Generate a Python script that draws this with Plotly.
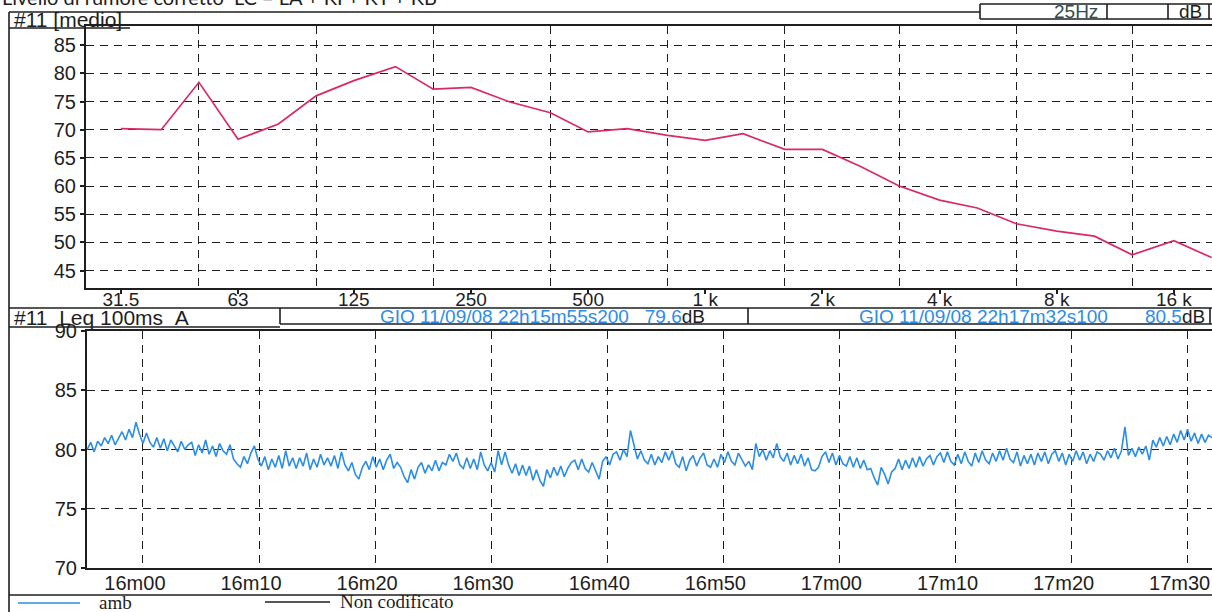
import math
import plotly.graph_objects as go

# ---------------- data ----------------
bands_hz = [31.5, 40, 50, 63, 80, 100, 125, 160, 200, 250, 315, 400, 500, 630, 800,
            1000, 1250, 1600, 2000, 2500, 3150, 4000, 5000, 6300, 8000, 10000, 12500,
            16000, 20000]
spectrum_db = [70.2, 70.0, 78.4, 68.3, 71.0, 76.0, 78.7, 81.2, 77.2, 77.5, 74.9, 73.0,
               69.6, 70.2, 69.0, 68.1, 69.3, 66.5, 66.5, 63.5, 60.0, 57.5, 56.1, 53.3,
               52.0, 51.1, 47.8, 50.3, 47.3]
freq_tick_vals = [31.5, 63, 125, 250, 500, 1000, 2000, 4000, 8000, 16000]
freq_tick_text = ["31.5", "63", "125", "250", "500", "1 k", "2 k", "4 k", "8 k", "16 k"]
freq_grid_vals = [50, 100, 200, 400, 800, 1600, 3150, 6300, 12500]
spec_db_ticks = [45, 50, 55, 60, 65, 70, 75, 80, 85]

leq_start_s = 55.2   # seconds after 22h15m00 (22h15m55s200)
leq_step_s = 0.3
leq_db = [
    80.0, 80.6, 79.8, 80.7, 80.3, 81.0, 80.5, 81.2, 80.4, 80.9,
    81.5, 80.8, 81.7, 81.0, 82.3, 81.3, 80.5, 81.4, 80.6, 80.2,
    81.0, 80.1, 80.9, 79.9, 80.8, 80.3, 79.8, 80.7, 80.0, 80.4,
    80.6, 79.5, 80.4, 79.7, 80.8, 79.6, 80.3, 79.4, 80.5, 79.9,
    79.6, 80.4, 79.2, 78.8, 78.5, 79.4, 78.8, 79.7, 80.3, 79.2,
    78.6, 79.4, 78.3, 79.2, 78.5, 79.5, 78.4, 79.9, 78.6, 79.3,
    78.4, 79.3, 78.6, 79.7, 78.3, 79.2, 78.5, 79.6, 78.7, 79.3,
    78.6, 79.5, 78.4, 79.8, 78.7, 78.2, 78.9, 77.9, 77.5, 78.5,
    79.0, 78.3, 79.4, 78.5, 79.2, 78.3, 79.1, 79.6, 78.4, 78.9,
    78.5, 77.7, 77.2, 78.3, 77.5, 78.5, 78.9, 78.0, 78.7, 78.2,
    79.1, 78.2, 78.9, 78.7, 79.6, 79.0, 79.7, 78.7, 78.4, 79.3,
    78.4, 79.2, 78.3, 79.8, 78.7, 78.2, 78.9, 78.1, 79.9, 78.7,
    79.8, 78.7, 78.0, 78.8, 77.8, 78.7, 77.8, 78.6, 77.4, 78.3,
    77.4, 76.9, 78.3, 77.6, 78.5, 77.8, 78.6, 77.7, 78.4, 78.9,
    79.1, 78.3, 79.2, 78.4, 78.1, 78.9, 78.2, 77.5, 79.0, 79.4,
    78.7, 79.6, 79.8, 79.1, 80.0, 79.4, 81.6, 80.3, 79.2, 79.9,
    79.1, 78.8, 79.6, 78.7, 79.4, 78.9, 79.8, 79.1, 79.9, 78.8,
    78.5, 79.4, 78.2, 79.1, 79.5, 78.6, 79.3, 79.7, 78.7, 78.5,
    79.2, 78.5, 79.6, 78.9, 79.8, 79.0, 78.7, 79.7, 79.1, 78.6,
    79.0, 78.3, 80.5, 79.4, 80.0, 79.1, 79.9, 79.3, 80.5, 79.4,
    79.0, 79.7, 78.7, 79.5, 78.8, 79.6, 78.6, 79.3, 78.3, 78.2,
    78.5, 79.4, 79.8, 78.9, 79.7, 78.7, 79.5, 78.8, 78.6, 79.4,
    78.5, 79.3, 78.4, 79.1, 78.3, 78.4, 77.6, 77.0, 78.5, 77.9,
    77.1, 78.1, 78.4, 79.2, 78.3, 79.1, 78.4, 79.3, 78.5, 79.4,
    78.6, 79.2, 79.5, 78.7, 79.4, 79.7, 78.9, 79.8, 79.0, 78.7,
    79.6, 78.8, 79.8, 79.0, 78.6, 79.7, 78.9, 79.9, 79.1, 78.8,
    79.7, 79.0, 79.9, 79.1, 80.1, 79.2, 78.9, 79.8, 78.6, 79.5,
    78.8, 79.6, 78.7, 79.7, 79.0, 79.8, 78.8, 79.6, 79.9, 79.0,
    79.7, 78.7, 79.6, 79.0, 79.9, 79.1, 79.8, 78.8, 79.6, 79.0,
    79.8, 79.6, 79.1, 79.9, 79.3, 80.1, 79.2, 79.9, 81.9, 79.5,
    80.1, 79.4, 80.2, 79.6, 80.3, 79.1, 80.8, 80.2, 81.0, 80.3,
    81.1, 80.4, 81.3, 80.6, 81.6, 80.8, 81.7, 80.7, 81.4, 80.5,
    81.3, 80.6, 81.2, 81.0,
]
leq_time_s = [leq_start_s + i * leq_step_s for i in range(len(leq_db))]
time_tick_vals = [60, 70, 80, 90, 100, 110, 120, 130, 140, 150]
time_tick_text = ["16m00", "16m10", "16m20", "16m30", "16m40", "16m50",
                  "17m00", "17m10", "17m20", "17m30"]
leq_db_ticks = [70, 75, 80, 85, 90]

# ---------------- styling helpers ----------------
W, H = 1212, 612
def px(x):
    return x / W
def py(y):
    return 1 - y / H

INK = "#1e1e1e"
SANS = "Liberation Sans, Arial, sans-serif"
SERIF = "Liberation Serif, Times New Roman, serif"
GRID_DASH = "8px,6px"
BLUE = "#2B8DE6"
PINK = "#D92A62"

fig = go.Figure()
fig.add_trace(go.Scatter(x=bands_hz, y=spectrum_db, mode="lines",
                         line=dict(color=PINK, width=1.7),
                         xaxis="x", yaxis="y", showlegend=False, hoverinfo="skip"))
fig.add_trace(go.Scatter(x=leq_time_s, y=leq_db, mode="lines",
                         line=dict(color=BLUE, width=1.6),
                         xaxis="x2", yaxis="y2", showlegend=False, hoverinfo="skip"))

tickfont = dict(family=SANS, size=20, color=INK)

fig.update_layout(
    width=W, height=H,
    margin=dict(l=0, r=0, t=0, b=0, pad=0),
    paper_bgcolor="white", plot_bgcolor="white",
    showlegend=False,
    xaxis=dict(
        type="log", domain=[px(86), 1.0], anchor="y",
        range=[math.log10(25.63), math.log10(20000) + 0.001],
        tickmode="array", tickvals=freq_tick_vals, ticktext=freq_tick_text,
        ticks="outside", ticklen=4, tickwidth=1.5, tickcolor=INK,
        ticklabelstandoff=-11, ticklabeloverflow="allow",
        showgrid=False, zeroline=False,
        minor=dict(tickmode="array", tickvals=freq_grid_vals, showgrid=True,
                   gridcolor=INK, gridwidth=1.3, griddash=GRID_DASH, ticks=""),
        showline=True, linecolor=INK, linewidth=2, mirror=True,
        tickfont=dict(family=SANS, size=19, color=INK), automargin=False,
    ),
    yaxis=dict(
        domain=[py(288), py(26)], anchor="x", range=[41.9, 88.4],
        tickmode="array", tickvals=spec_db_ticks,
        ticks="outside", ticklen=4, tickwidth=1.5, tickcolor=INK,
        showgrid=True, gridcolor=INK, gridwidth=1.3, griddash=GRID_DASH,
        zeroline=False, showline=True, linecolor=INK, linewidth=2, mirror=True,
        tickfont=tickfont, automargin=False,
    ),
    xaxis2=dict(
        domain=[px(87), 1.0], anchor="y2", range=[55.18, 152.1],
        tickmode="array", tickvals=time_tick_vals, ticktext=time_tick_text,
        ticks="", ticklabelstandoff=-4, ticklabelshift=-8, ticklabeloverflow="allow",
        showgrid=True, gridcolor=INK, gridwidth=1.3, griddash=GRID_DASH,
        zeroline=False, showline=True, linecolor=INK, linewidth=2, mirror=True,
        tickfont=tickfont, automargin=False,
    ),
    yaxis2=dict(
        domain=[py(568), py(331)], anchor="x2", range=[70, 90],
        tickmode="array", tickvals=leq_db_ticks,
        ticks="outside", ticklen=4, tickwidth=1.5, tickcolor=INK,
        showgrid=True, gridcolor=INK, gridwidth=1.3, griddash=GRID_DASH,
        zeroline=False, showline=True, linecolor=INK, linewidth=2, mirror=True,
        tickfont=tickfont, automargin=False,
    ),
)

# ---------------- report frame (boxes / rules) ----------------
def hline(x0, x1, y, w=1.6, color=INK):
    fig.add_shape(type="line", xref="paper", yref="paper",
                  x0=px(x0), x1=px(x1), y0=py(y), y1=py(y),
                  line=dict(color=color, width=w))

def vline(x, y0, y1, w=1.6, color=INK):
    fig.add_shape(type="line", xref="paper", yref="paper",
                  x0=px(x), x1=px(x), y0=py(y0), y1=py(y1),
                  line=dict(color=color, width=w))

# outer left border
vline(9, 12, 612)
# top header
hline(9, 980, 12)
hline(9, 130, 28)
hline(980, 1212, 4)
hline(980, 1212, 19)
vline(980, 4, 19)
vline(1107, 4, 19)
vline(1168, 4, 19)
vline(1209, 4, 19)
# middle header row
hline(9, 1212, 308)
hline(9, 280, 327)
hline(280, 1212, 324)
vline(280, 308, 324)
vline(748, 308, 324)
vline(1210, 308, 324)
# legend row
hline(9, 1212, 595)
hline(18, 80, 603, w=1.4, color=BLUE)
hline(265, 330, 602, w=1.4, color=INK)

def text(x, y, s, size=19, family=SANS, color=INK, xanchor="left"):
    fig.add_annotation(xref="paper", yref="paper", x=px(x), y=py(y), text=s,
                       showarrow=False, xanchor=xanchor, yanchor="middle",
                       font=dict(family=family, size=size, color=color))

NB = "\u00a0"
fig.add_annotation(xref="paper", yref="paper", x=px(0), y=py(11),
                   text="Livello di rumore corretto" + NB * 2 + "LC = LA + KI + KT + KB",
                   showarrow=False, xanchor="left", yanchor="bottom",
                   font=dict(family="Lato, Noto Sans, sans-serif", size=20, color=INK))
text(12, 20, "#11" + NB + "[medio]", size=21)
text(1100, 11, "25Hz", size=19, color="#2f4f4f", xanchor="right")
text(1204, 11, "dB", size=19, xanchor="right")

text(12, 317, "#11" + NB * 2 + "Leq" + NB + "100ms" + NB * 2 + "A", size=21)
text(707, 316,
     '<span style="color:%s">GIO 11/09/08 22h15m55s200%s79.6</span>dB' % (BLUE, NB * 3),
     size=19, xanchor="right")
text(1207, 316,
     '<span style="color:%s">GIO 11/09/08 22h17m32s100%s80.5</span>dB' % (BLUE, NB * 7),
     size=19, xanchor="right")

text(97, 602, "amb", size=19, family=SERIF)
text(338, 601, "Non codificato", size=19, family=SERIF)

fig.write_html("out.html")
